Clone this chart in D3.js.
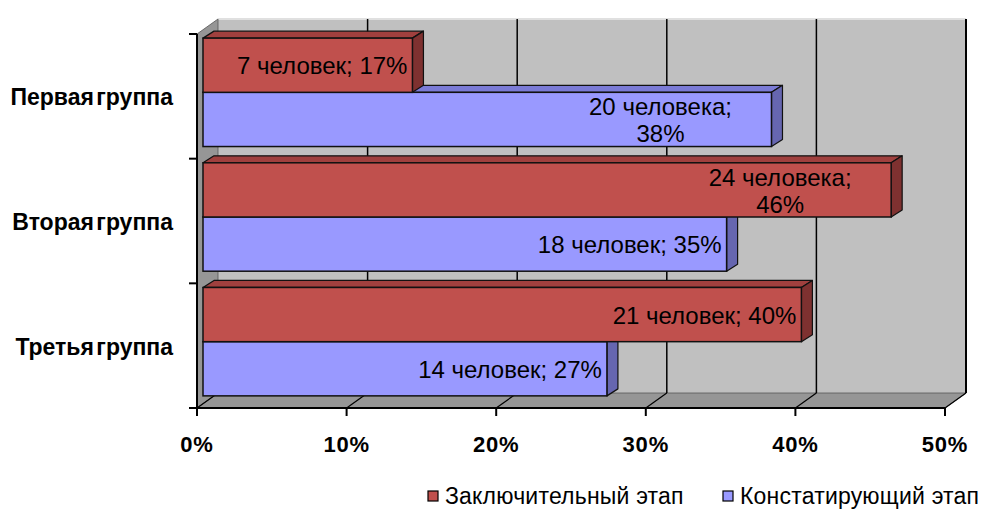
<!DOCTYPE html>
<html><head><meta charset="utf-8">
<script src="https://cdnjs.cloudflare.com/ajax/libs/d3/7.8.5/d3.min.js"></script>
<style>html,body{margin:0;padding:0;background:#fff;}svg{display:block;}</style>
</head><body>
<svg id="chart" width="993" height="509"></svg>
<script>
// ---- data ----
const categories = ["Первая группа", "Вторая группа", "Третья группа"];
const seriesNames = ["Заключительный этап", "Констатирующий этап"];
const finalValues = [14, 46, 40];      // bar lengths as drawn, %
const initialValues = [38, 35, 27];
const finalLabels = ["7 человек; 17%", "24 человека;\n46%", "21 человек; 40%"];
const initialLabels = ["20 человека;\n38%", "18 человек; 35%", "14 человек; 27%"];
const xTicks = [0, 10, 20, 30, 40, 50];

// ---- layout ----
const svg = d3.select("#chart");
const X0 = 197, X1 = 945, YT = 34, YB = 408;
const DX = 21, DY = -15;          // wall depth
const BX = 6, BY = -4;            // bar front offset into depth
const BDX = 11, BDY = -7;         // bar depth
const FONT = "Liberation Sans, Arial, sans-serif";
const colors = {
  red: {front: "#C0504D", top: "#A0403E", side: "#7E3130"},
  blue: {front: "#9999FF", top: "#7B7BD6", side: "#6666B0"}
};

const x = d3.scaleLinear().domain([0, 50]).range([X0, X1]);
const y = d3.scaleBand().domain(categories).range([YT, YB]);
const sub = d3.scaleBand().domain(seriesNames).range([0, y.bandwidth()]).paddingOuter(0.15).paddingInner(0);

const poly = pts => pts.map(p => p.join(",")).join(" ");
const g = svg.append("g");

// back wall
g.append("polygon").attr("points", poly([[X0+DX, YT+DY], [X1+DX, YT+DY], [X1+DX, YB+DY], [X0+DX, YB+DY]]))
  .attr("fill", "#C0C0C0");
g.append("line").attr("x1", X0+DX).attr("x2", X1+DX).attr("y1", YT+DY).attr("y2", YT+DY)
  .attr("stroke", "#e0e0e0").attr("stroke-width", 2);
// left wall
g.append("polygon").attr("points", poly([[X0, YT], [X0+DX, YT+DY], [X0+DX, YB+DY], [X0, YB]]))
  .attr("fill", "#969696").attr("stroke", "#555").attr("stroke-width", 0.8);
// floor
g.append("polygon").attr("points", poly([[X0, YB], [X1, YB], [X1+DX, YB+DY], [X0+DX, YB+DY]]))
  .attr("fill", "#969696").attr("stroke", "#555").attr("stroke-width", 0.8);

// gridlines on back wall and floor
xTicks.forEach(t => {
  if (t > 0) {
    g.append("line").attr("x1", x(t)+DX).attr("x2", x(t)+DX).attr("y1", YT+DY).attr("y2", YB+DY)
      .attr("stroke", "#000").attr("stroke-width", t === 50 ? 2 : 1.5);
  }
  g.append("line").attr("x1", x(t)).attr("x2", x(t)+DX).attr("y1", YB).attr("y2", YB+DY)
    .attr("stroke", "#000").attr("stroke-width", 1.2);
});

// bars
function drawBar(cat, val, key, col) {
  const y0 = y(cat) + sub(key) + BY;
  const h = sub.bandwidth();
  const xs = x(0) + BX, xe = x(val) + BX;
  const bg = g.append("g");
  bg.append("polygon").attr("points", poly([[xs, y0], [xs+BDX, y0+BDY], [xe+BDX, y0+BDY], [xe, y0]]))
    .attr("fill", col.top).attr("stroke", "#111").attr("stroke-width", 1.2).attr("stroke-linejoin", "round");
  bg.append("polygon").attr("points", poly([[xe, y0], [xe+BDX, y0+BDY], [xe+BDX, y0+h+BDY], [xe, y0+h]]))
    .attr("fill", col.side).attr("stroke", "#111").attr("stroke-width", 1.2).attr("stroke-linejoin", "round");
  bg.append("rect").attr("x", xs).attr("y", y0).attr("width", xe - xs).attr("height", h)
    .attr("fill", col.front).attr("stroke", "#111").attr("stroke-width", 1.5);
  return {xe, yc: y0 + h / 2};
}

function drawLabel(pos, text) {
  const lines = text.split("\n");
  if (lines.length === 1) {
    g.append("text").attr("font-family", FONT).attr("font-size", 24).attr("fill", "#000")
      .attr("text-anchor", "end").attr("x", pos.xe - 5).attr("y", pos.yc + 9).text(lines[0]);
  } else {
    lines.forEach((ln, i) => {
      g.append("text").attr("font-family", FONT).attr("font-size", 24).attr("fill", "#000")
        .attr("text-anchor", "middle").attr("x", pos.xe - 111).attr("y", pos.yc - 4 + i * 27).text(ln);
    });
  }
}

categories.forEach((cat, i) => {
  const pb = drawBar(cat, initialValues[i], seriesNames[1], colors.blue);
  const pr = drawBar(cat, finalValues[i], seriesNames[0], colors.red);
  drawLabel(pb, initialLabels[i]);
  drawLabel(pr, finalLabels[i]);
});

// axes
const axG = svg.append("g");
axG.append("line").attr("x1", X0).attr("x2", X0).attr("y1", YT).attr("y2", YB + 8)
  .attr("stroke", "#000").attr("stroke-width", 2);
axG.append("line").attr("x1", X0 - 8).attr("x2", X1).attr("y1", YB).attr("y2", YB)
  .attr("stroke", "#000").attr("stroke-width", 2);
[...categories.map(c => y(c)), YB].forEach(v => {
  axG.append("line").attr("x1", X0 - 8).attr("x2", X0).attr("y1", v).attr("y2", v)
    .attr("stroke", "#000").attr("stroke-width", 2);
});
xTicks.forEach(t => {
  axG.append("line").attr("x1", x(t)).attr("x2", x(t)).attr("y1", YB).attr("y2", YB + 8)
    .attr("stroke", "#000").attr("stroke-width", 2);
  axG.append("text").attr("x", x(t)).attr("y", 452).attr("text-anchor", "middle")
    .attr("font-family", FONT).attr("font-weight", "bold")
    .attr("font-size", 22).attr("letter-spacing", 0.8).text(t + "%");
});
categories.forEach(c => {
  axG.append("text").attr("x", 173).attr("y", y(c) + y.bandwidth() / 2 + 9).attr("text-anchor", "end")
    .attr("font-family", FONT).attr("font-weight", "bold")
    .attr("font-size", 23).attr("letter-spacing", 0).attr("word-spacing", -4).text(c);
});

// legend
const leg = svg.append("g");
const legItems = [{name: seriesNames[0], col: colors.red.front, x: 428}, {name: seriesNames[1], col: colors.blue.front, x: 723}];
legItems.forEach(it => {
  leg.append("rect").attr("x", it.x).attr("y", 491).attr("width", 10).attr("height", 10)
    .attr("fill", it.col).attr("stroke", "#000").attr("stroke-width", 1.2);
  leg.append("text").attr("x", it.x + 17).attr("y", 504)
    .attr("font-family", FONT).attr("font-size", 23).attr("letter-spacing", 0.2).text(it.name);
});
</script>
</body></html>
